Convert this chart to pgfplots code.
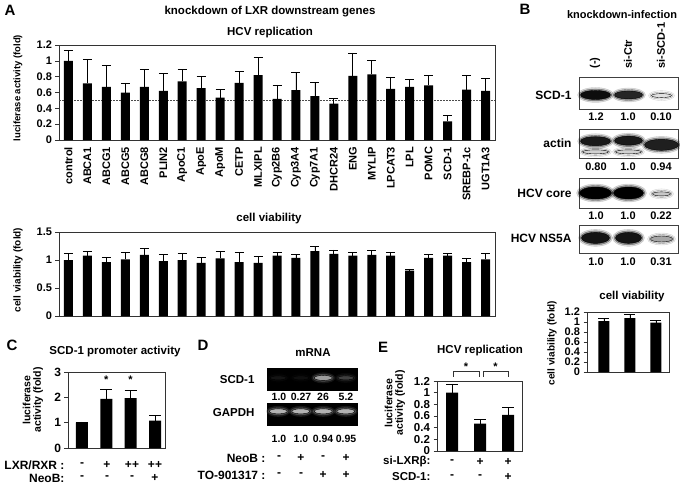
\documentclass[border=0pt]{standalone}
\usepackage{fontspec}
\setmainfont{Liberation Sans}
\usepackage{pgfplots}
\usepackage{pgfplotstable}
\pgfplotsset{compat=1.18}

\newcommand\fs[1]{\fontsize{#1}{#1}\selectfont}

% A: HCV replication and cell viability after knockdown
\pgfplotstableread{
x hcv hcve via viae
0  1.00  0.13  1.00 0.12
1  0.715 0.30  1.08 0.07
2  0.67  0.27  0.96 0.09
3  0.60  0.12  1.01 0.12
4  0.67  0.22  1.09 0.12
5  0.62  0.22  0.98 0.12
6  0.74  0.15  1.00 0.12
7  0.655 0.15  0.95 0.10
8  0.535 0.10  1.03 0.13
9  0.72  0.145 0.96 0.17
10 0.82  0.225 0.95 0.12
11 0.52  0.175 1.08 0.06
12 0.63  0.225 1.04 0.06
13 0.555 0.175 1.16 0.09
14 0.46  0.07  1.11 0.07
15 0.81  0.29  1.08 0.05
16 0.83  0.17  1.09 0.08
17 0.645 0.15  1.08 0.06
18 0.67  0.095 0.81 0.03
19 0.69  0.125 1.04 0.06
20 0.235 0.075 1.08 0.04
21 0.635 0.185 0.96 0.06
22 0.62  0.16  1.01 0.11
}\genes

% B: cell viability
\pgfplotstableread{
x y e
1 1.02 0.06
2 1.08 0.08
3 0.99 0.05
}\viab

% C: SCD-1 promoter activity
\pgfplotstableread{
x y e
1 1.00 0.03
2 1.94 0.38
3 1.97 0.31
4 1.08 0.21
}\promoter

% E: HCV replication
\pgfplotstableread{
x y e
1 1.00 0.15
2 0.47 0.07
3 0.62 0.12
}\repl

\pgfplotsset{
  panel/.style={scale only axis, anchor=south west, clip=false,
    axis line style={black!80, line width=0.7pt},
    /pgf/number format/assume math mode=true,
    ymin=0, ytick pos=left, tick align=outside, major tick length=3.5pt,
    ytick style={black!80, line width=0.6pt}, xtick style={draw=none}},
  bars/.style={ybar, bar width=#1, fill=black, draw=none,
    error bars/y dir=plus, error bars/y explicit,
    error bars/error bar style={black, line width=0.8pt},
    error bars/error mark options={rotate=90, black, line width=0.8pt, mark size=#1/2}},
  blot/.style={scale only axis, anchor=south west, xmin=0.5, xmax=3.5, ymin=0, ymax=1,
    xtick=\empty, ytick=\empty, axis line style={black!75, line width=1pt}},
}

% one band: lane, height, colour, half width, half height
\newcommand\band[5]{%
  \addplot[only marks, mark=*, mark size={#5pt+3pt},
    mark options={draw=none, fill=#3, opacity=0.15, xscale={(#4+3)/(#5+3)}}] coordinates {(#1,#2)};
  \addplot[only marks, mark=*, mark size={#5pt+1.5pt},
    mark options={draw=none, fill=#3, opacity=0.35, xscale={(#4+1.5)/(#5+1.5)}}] coordinates {(#1,#2)};
  \addplot[only marks, mark=*, mark size=#5pt,
    mark options={draw=none, fill=#3, xscale={#4/#5}}] coordinates {(#1,#2)};}

\begin{document}
\bfseries
\begin{tikzpicture}[x=1pt,y=1pt]
\path[use as bounding box] (0pt,0pt) rectangle (680pt,-484pt);

% ---------- A top ----------
\begin{axis}[panel, at={(59pt,-140pt)}, width=436pt, height=95pt,
  xmin=-0.5, xmax=22.5, ymax=1.2, ytick={0,0.2,...,1.2},
  tick label style={font=\fs{11}},
  xtick={0,...,22},
  xticklabels={control,ABCA1,ABCG1,ABCG5,ABCG8,PLIN2,ApoC1,ApoE,ApoM,CETP,MLXIPL,Cyp2B6,Cyp3A4,Cyp7A1,DHCR24,ENG,MYLIP,LPCAT3,LPL,POMC,SCD-1,SREBP-1c,UGT1A3},
  xticklabel style={rotate=90, anchor=east, font=\fs{11}}]
\addplot[black!70, line width=0.6pt, dash pattern=on 1.5pt off 1.5pt] coordinates {(-0.5,0.5) (22.5,0.5)};
\addplot[bars=9pt] table[x=x, y=hcv, y error=hcve] {\genes};
\end{axis}

% ---------- A bottom ----------
\begin{axis}[panel, at={(59pt,-316pt)}, width=436pt, height=84pt,
  xmin=-0.5, xmax=22.5, ymax=1.5, ytick={0,0.5,1,1.5}, xtick=\empty,
  tick label style={font=\fs{11}}]
\addplot[bars=9pt] table[x=x, y=via, y error=viae] {\genes};
\end{axis}

% ---------- B blots ----------
\begin{axis}[blot, at={(579pt,-110pt)}, width=99pt, height=32pt]
\band{1}{0.47}{black!95}{15}{4.5}
\band{2}{0.47}{black!85}{14}{4}
\band{3}{0.45}{black!12}{10}{2}
\end{axis}
\begin{axis}[blot, at={(579pt,-158pt)}, width=99pt, height=28pt]
\band{1}{0.22}{black!18}{13}{2}
\band{2}{0.22}{black!18}{13}{2}
\band{1}{0.6}{black!90}{15}{4.5}
\band{2}{0.62}{black!90}{14}{4.5}
\band{3}{0.47}{black!88}{17}{5.5}
\end{axis}
\begin{axis}[blot, at={(579pt,-208pt)}, width=99pt, height=30pt]
\band{1}{0.5}{black}{16}{6}
\band{2}{0.5}{black}{15}{6}
\band{3}{0.47}{black!22}{9}{2}
\end{axis}
\begin{axis}[blot, at={(579pt,-253pt)}, width=99pt, height=28pt]
\band{1}{0.54}{black!92}{14}{5.5}
\band{2}{0.54}{black!92}{13}{5.5}
\band{3}{0.5}{black!35}{11}{3}
\end{axis}

% ---------- B viability ----------
\begin{axis}[panel, at={(587pt,-372pt)}, width=82pt, height=60pt,
  xmin=0.35, xmax=3.5, ymax=1.2, ytick={0,0.2,...,1.2}, xtick=\empty,
  tick label style={font=\fs{11}}]
\addplot[bars=11pt] table[x=x, y=y, y error=e] {\viab};
\end{axis}

% ---------- C ----------
\begin{axis}[panel, at={(68pt,-448pt)}, width=97pt, height=76pt,
  xmin=0.43, xmax=4.41, ymax=3, ytick={0,1,2,3}, xtick=\empty,
  tick label style={font=\fs{12}}]
\addplot[bars=12pt] table[x=x, y=y, y error=e] {\promoter};
\node[font=\fs{11}] at (axis cs:2,2.68) {*};
\node[font=\fs{11}] at (axis cs:3,2.68) {*};
\end{axis}

% ---------- D gels ----------
\begin{axis}[blot, at={(267pt,-390pt)}, width=90pt, height=22pt, xmax=4.5,
  axis background/.style={fill=black}, axis line style={black}]
\band{1}{0.55}{white!8!black}{8}{2}
\band{2}{0.55}{white!6!black}{8}{2}
\band{3}{0.55}{white!62!black}{9}{2.5}
\band{4}{0.55}{white!25!black}{8}{2}
\end{axis}
\begin{axis}[blot, at={(267pt,-425pt)}, width=90pt, height=22pt, xmax=4.5,
  axis background/.style={fill=black}, axis line style={black}]
\band{1}{0.62}{white!70!black}{9}{2.5}
\band{2}{0.62}{white!70!black}{9}{2.5}
\band{3}{0.62}{white!70!black}{9}{2.5}
\band{4}{0.62}{white!70!black}{9}{2.5}
\end{axis}

% ---------- E ----------
\begin{axis}[panel, at={(437pt,-451pt)}, width=85pt, height=70pt,
  xmin=0.46, xmax=3.5, ymax=1.2, ytick={0,0.2,...,1.2}, xtick=\empty,
  tick label style={font=\fs{11.5}}]
\addplot[bars=12pt] table[x=x, y=y, y error=e] {\repl};
\draw[black!80, line width=0.7pt] (axis cs:1.04,1.27) |- (axis cs:1.96,1.37) -- (axis cs:1.96,1.27);
\draw[black!80, line width=0.7pt] (axis cs:2.1,1.27) |- (axis cs:3.0,1.37) -- (axis cs:3.0,1.27);
\node[font=\fs{11}] at (axis cs:1.5,1.44) {*};
\node[font=\fs{11}] at (axis cs:2.55,1.44) {*};
\end{axis}

% ---------- texts ----------
\node[font=\fs{15}] at (10pt,-10pt) {A};
\node[font=\fs{15}] at (525pt,-9pt) {B};
\node[font=\fs{15}] at (12pt,-345pt) {C};
\node[font=\fs{15}] at (203pt,-345pt) {D};
\node[font=\fs{15}] at (383pt,-347pt) {E};

\node[font=\fs{11.5}] at (270pt,-12pt) {knockdown of LXR downstream genes};
\node[font=\fs{11.5}] at (270pt,-33pt) {HCV replication};
\node[font=\fs{11.5}] at (269pt,-219pt) {cell viability};
\node[font=\fs{9.5}, rotate=90] at (18pt,-88pt) {luciferase activity (fold)};
\node[font=\fs{10}, rotate=90] at (18pt,-270pt) {cell viability (fold)};

\node[font=\fs{11}] at (622pt,-15pt) {knockdown-infection};
\foreach \x/\t in {595/(-),628/si-Ctr,661/si-SCD-1}
  \node[font=\fs{11}, rotate=90, anchor=west] at (\x pt,-72pt) {\t};
\node[font=\fs{12}, anchor=east] at (575pt,-95pt) {SCD-1};
\node[font=\fs{12}, anchor=east] at (575pt,-143pt) {actin};
\node[font=\fs{12}, anchor=east] at (575pt,-193pt) {HCV core};
\node[font=\fs{12}, anchor=east] at (575pt,-238pt) {HCV NS5A};
\foreach \x/\a/\b/\c/\d in {596/1.2/0.80/1.0/1.0, 628/1.0/1.0/1.0/1.0, 661/0.10/0.94/0.22/0.31}{
  \node[font=\fs{11}] at (\x pt,-117pt) {\a};
  \node[font=\fs{11}] at (\x pt,-167pt) {\b};
  \node[font=\fs{11}] at (\x pt,-216pt) {\c};
  \node[font=\fs{11}] at (\x pt,-262pt) {\d};}
\node[font=\fs{11.5}] at (632pt,-297pt) {cell viability};
\node[font=\fs{10}, rotate=90] at (552pt,-343pt) {cell viability (fold)};

\node[font=\fs{11.5}] at (115pt,-352pt) {SCD-1 promoter activity};
\node[rotate=90, align=center, font=\fontsize{10.5}{10.5}\selectfont] at (33pt,-400pt) {luciferase\\activity (fold)};
\node[font=\fs{12}, anchor=east] at (68pt,-465pt) {LXR/RXR :};
\node[font=\fs{12}, anchor=east] at (68pt,-478pt) {NeoB:};
\foreach \x/\a/\b in {82/-/-, 107/+/-, 132/++/-, 155/++/+}{
  \node[font=\fs{12}] at (\x pt,-465pt) {\a};
  \node[font=\fs{12}] at (\x pt,-478pt) {\b};}

\node[font=\fs{11.5}] at (313pt,-353pt) {mRNA};
\node[font=\fs{11.5}, anchor=east] at (258pt,-380pt) {SCD-1};
\node[font=\fs{11.5}, anchor=east] at (258pt,-413pt) {GAPDH};
\foreach \x/\a/\b/\c/\d in {279/1.0/1.0/-/-, 301/0.27/1.0/+/-, 323/26/0.94/-/+, 346/5.2/0.95/+/+}{
  \node[font=\fs{10.5}] at (\x pt,-397pt) {\a};
  \node[font=\fs{10.5}] at (\x pt,-439pt) {\b};
  \node[font=\fs{12}] at (\x pt,-458pt) {\c};
  \node[font=\fs{12}] at (\x pt,-475pt) {\d};}
\node[font=\fs{12}, anchor=east] at (269pt,-458pt) {NeoB :};
\node[font=\fs{12}, anchor=east] at (269pt,-475pt) {TO-901317 :};

\node[font=\fs{11.5}] at (480pt,-351pt) {HCV replication};
\node[rotate=90, align=center, font=\fontsize{10.5}{10.5}\selectfont] at (395pt,-403pt) {luciferase\\activity (fold)};
\node[font=\fs{11.5}, anchor=east] at (434pt,-462pt) {si-LXRβ:};
\node[font=\fs{11.5}, anchor=east] at (434pt,-477pt) {SCD-1:};
\foreach \x/\a/\b in {452/-/-, 480/+/-, 508/+/+}{
  \node[font=\fs{12}] at (\x pt,-462pt) {\a};
  \node[font=\fs{12}] at (\x pt,-477pt) {\b};}
\end{tikzpicture}
\end{document}
